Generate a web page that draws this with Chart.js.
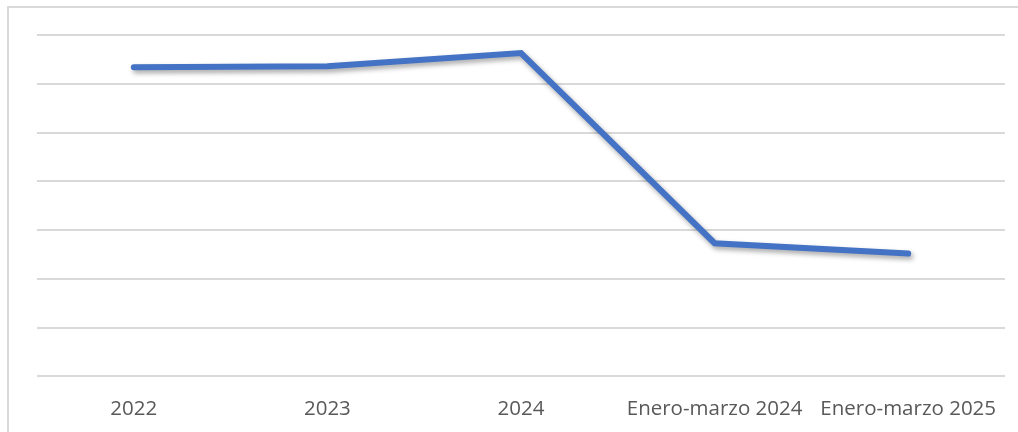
<!DOCTYPE html>
<html>
<head>
<meta charset="utf-8">
<script src="https://cdn.jsdelivr.net/npm/chart.js@4"></script>
<style>
    html, body { margin: 0; padding: 0; background: #fff; }
    #wrap { position: relative; width: 1018px; height: 432px; overflow: hidden; }
    #frame { position: absolute; left: 7px; top: 6px; width: 1100px; height: 500px; border: 2px solid #d9d9d9; box-sizing: border-box; }
    #chart { position: absolute; left: 0; top: 0; }
</style>
</head>
<body>
<div id="wrap">
    <div id="frame"></div>
    <canvas id="chart" width="1018" height="432"></canvas>
</div>
<script>
const categories = ['2022', '2023', '2024', 'Enero-marzo 2024', 'Enero-marzo 2025'];
const values = [6.34, 6.36, 6.63, 2.73, 2.52];
const yTicks = [0, 1, 2, 3, 4, 5, 6, 7];

// soft drop shadow under the line, like the office chart
const lineShadow = {
    id: 'lineShadow',
    beforeDatasetDraw(chart) {
        const c = chart.ctx;
        c.save();
        c.shadowColor = 'rgba(0,0,0,0.35)';
        c.shadowBlur = 5;
        c.shadowOffsetX = 2;
        c.shadowOffsetY = 3;
    },
    afterDatasetDraw(chart) {
        chart.ctx.restore();
    }
};

const ctx = document.getElementById('chart').getContext('2d');
new Chart(ctx, {
    type: 'line',
    data: {
        labels: categories,
        datasets: [{
            data: values,
            borderColor: '#4472c4',
            borderWidth: 6,
            borderCapStyle: 'round',
            borderJoinStyle: 'miter',
            pointRadius: 0,
            tension: 0,
            fill: false
        }]
    },
    options: {
        responsive: false,
        animation: false,
        layout: { padding: { left: 37, right: 13, top: 35, bottom: -1 } },
        plugins: {
            legend: { display: false },
            tooltip: { enabled: false }
        },
        scales: {
            x: {
                offset: true,
                grid: { display: false },
                border: { display: false },
                ticks: {
                    color: '#595959',
                    font: { family: 'Open Sans', size: 20.5 },
                    padding: 12,
                    maxRotation: 0,
                    autoSkip: false
                }
            },
            y: {
                min: 0,
                max: 7,
                afterBuildTicks: (axis) => { axis.ticks = yTicks.map(v => ({ value: v })); },
                ticks: { display: false },
                grid: { color: '#d9d9d9', lineWidth: 2, drawTicks: false },
                border: { display: false }
            }
        }
    },
    plugins: [lineShadow]
});
</script>
</body>
</html>
